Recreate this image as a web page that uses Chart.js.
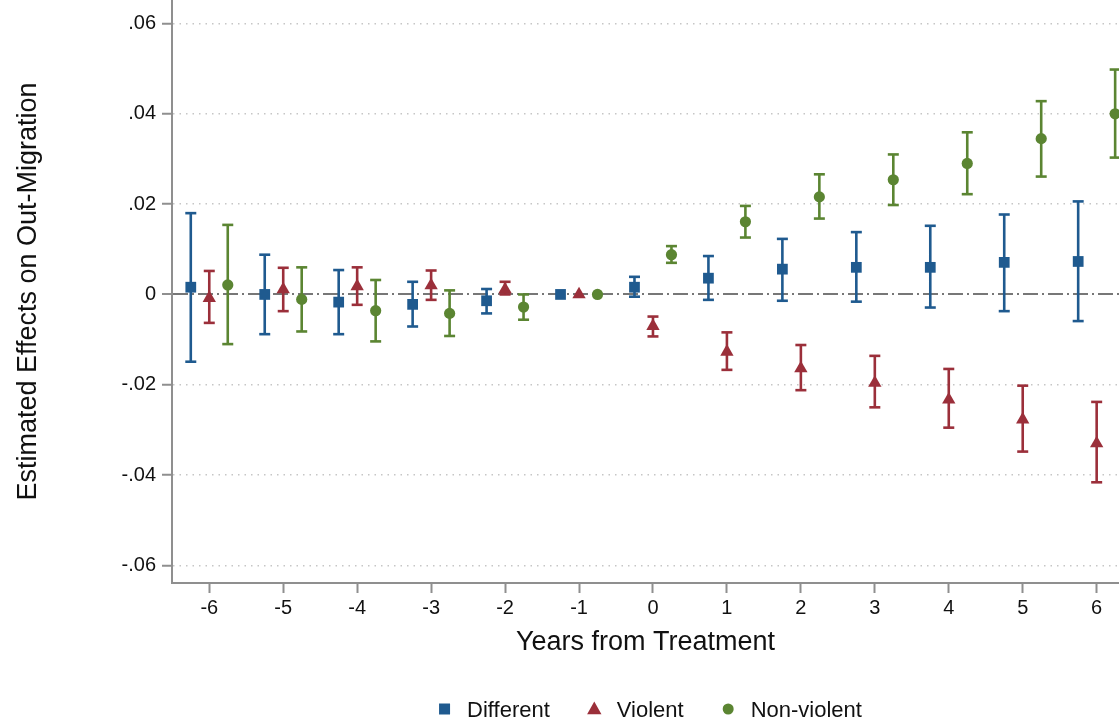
<!DOCTYPE html>
<html><head><meta charset="utf-8">
<script src="https://cdn.jsdelivr.net/npm/chart.js@4/dist/chart.umd.min.js"></script>
<style>html,body{margin:0;padding:0;background:#fff;overflow:hidden}canvas{display:block}</style>
</head><body>
<canvas id="c" width="1119" height="723"></canvas>
<script>
// ---- data ----
const years = [-6, -5, -4, -3, -2, -1, 0, 1, 2, 3, 4, 5, 6];
const seriesNames = ['Different', 'Violent', 'Non-violent'];
const seriesOffsets = [-0.25, 0, 0.25];

const different   = [0.0016, 0.0000, -0.0017, -0.0022, -0.0014, 0, 0.0016, 0.0036, 0.0056, 0.0060, 0.0060, 0.0071, 0.0073];
const differentLo = [-0.0149, -0.0088, -0.0088, -0.0071, -0.0042, null, -0.0005, -0.0012, -0.0014, -0.0016, -0.0029, -0.0037, -0.0059];
const differentHi = [0.0180, 0.0088, 0.0054, 0.0028, 0.0012, null, 0.0039, 0.0085, 0.0123, 0.0138, 0.0152, 0.0177, 0.0206];

const violent   = [-0.0008, 0.0011, 0.0018, 0.0020, 0.0011, 0, -0.0070, -0.0127, -0.0164, -0.0196, -0.0233, -0.0277, -0.0330];
const violentLo = [-0.0063, -0.0037, -0.0023, -0.0012, 0.0000, null, -0.0093, -0.0167, -0.0212, -0.0250, -0.0295, -0.0348, -0.0416];
const violentHi = [0.0052, 0.0059, 0.0060, 0.0053, 0.0028, null, -0.0049, -0.0084, -0.0112, -0.0136, -0.0165, -0.0202, -0.0238];

const nonviolent   = [0.0021, -0.0011, -0.0036, -0.0042, -0.0028, 0, 0.0088, 0.0161, 0.0216, 0.0254, 0.0290, 0.0345, 0.0400];
const nonviolentLo = [-0.0110, -0.0082, -0.0104, -0.0092, -0.0056, null, 0.0070, 0.0126, 0.0168, 0.0198, 0.0222, 0.0261, 0.0303];
const nonviolentHi = [0.0154, 0.0060, 0.0032, 0.0009, 0.0000, null, 0.0107, 0.0196, 0.0266, 0.0310, 0.0359, 0.0428, 0.0498];

const yTickValues = [-0.06, -0.04, -0.02, 0, 0.02, 0.04, 0.06];
const yTickLabels = ['-.06', '-.04', '-.02', '0', '.02', '.04', '.06'];
const xTickValues = years;
const xTickLabels = ['-6', '-5', '-4', '-3', '-2', '-1', '0', '1', '2', '3', '4', '5', '6'];

// ---- styles ----
const FONT = '"Liberation Sans", Arial, Helvetica, sans-serif';
const colors = ['#1f5a8f', '#9b2f3a', '#5b8532'];
const pointStyles = ['rect', 'triangle', 'circle'];
const pointRadii = [7.6, 7.7, 5.6];
const AXIS = '#8f8f8f';

const est = [different, violent, nonviolent];
const los = [differentLo, violentLo, nonviolentLo];
const his = [differentHi, violentHi, nonviolentHi];

function markerData(vals, off) {
  return years.map((yr, i) => ({ x: yr + off, y: vals[i] }));
}
function barData(lo, hi, off) {
  const out = [];
  years.forEach((yr, i) => {
    if (lo[i] == null || hi[i] == null) return;
    out.push({ x: yr + off, y: lo[i] }, { x: yr + off, y: hi[i] }, { x: yr + off, y: null });
  });
  return out;
}

const datasets = [];
seriesNames.forEach((name, k) => {
  datasets.push({
    type: 'scatter', label: name, data: markerData(est[k], seriesOffsets[k]),
    pointStyle: pointStyles[k], pointRadius: pointRadii[k],
    backgroundColor: colors[k], borderColor: colors[k], pointBorderWidth: 0, showLine: false
  });
});
seriesNames.forEach((name, k) => {
  datasets.push({
    type: 'line', label: name + ' CI', data: barData(los[k], his[k], seriesOffsets[k]),
    showLine: true, spanGaps: false, borderColor: colors[k], borderWidth: 2.6,
    pointStyle: 'line', pointRadius: 5.5, pointBorderColor: colors[k], pointBorderWidth: 2.6,
    backgroundColor: colors[k], fill: false, tension: 0
  });
});

function drawMarker(ctx, style, x, y, color) {
  ctx.fillStyle = color;
  ctx.beginPath();
  if (style === 'rect') {
    ctx.rect(x - 5.5, y - 5.5, 11, 11);
  } else if (style === 'triangle') {
    ctx.moveTo(x, y - 7.5); ctx.lineTo(x + 7.2, y + 5.2); ctx.lineTo(x - 7.2, y + 5.2); ctx.closePath();
  } else {
    ctx.arc(x, y, 5.5, 0, Math.PI * 2);
  }
  ctx.fill();
}

const legendPlugin = {
  id: 'bottomLegend',
  afterDraw(chart) {
    const ctx = chart.ctx;
    ctx.save();
    ctx.font = '22px ' + FONT;
    const widths = seriesNames.map(n => ctx.measureText(n).width);
    const mW = 11, gap = 17, itemGap = 39;
    const total = widths.reduce((a, b) => a + b, 0) + seriesNames.length * (mW + gap) + (seriesNames.length - 1) * itemGap;
    let x = (chart.chartArea.left + chart.chartArea.right) / 2 + 5 - total / 2;
    const yc = 709, yb = 717;
    seriesNames.forEach((n, i) => {
      drawMarker(ctx, pointStyles[i], x + mW / 2, yc, colors[i]);
      ctx.fillStyle = '#111';
      ctx.textBaseline = 'alphabetic';
      ctx.textAlign = 'left';
      ctx.fillText(n, x + mW + gap, yb);
      x += mW + gap + widths[i] + itemGap;
    });
    ctx.restore();
  }
};

const isZero = c => c.tick && Math.abs(c.tick.value) < 1e-12;
const lookup = (vals, labels, v) => { const i = vals.findIndex(t => Math.abs(t - v) < 1e-9); return i < 0 ? '' : labels[i]; };

new Chart(document.getElementById('c'), {
  type: 'scatter',
  data: { datasets },
  options: {
    responsive: false, animation: false, events: [],
    layout: { autoPadding: false, padding: { left: 0, right: 0, top: 0, bottom: 60 } },
    plugins: { legend: { display: false }, tooltip: { enabled: false } },
    scales: {
      x: {
        type: 'linear', min: -6.504, max: 6.302,
        afterBuildTicks: s => { s.ticks = xTickValues.map(v => ({ value: v })); },
        afterFit: s => { s.height = 80; s.paddingLeft = 0; s.paddingRight = 0; },
        ticks: { font: { family: FONT, size: 20 }, color: '#111', padding: 3, maxRotation: 0, autoSkip: false,
                 callback: v => lookup(xTickValues, xTickLabels, v) },
        grid: { drawOnChartArea: false, drawTicks: true, tickLength: 10, tickColor: AXIS, tickWidth: 2, color: AXIS },
        border: { display: true, color: AXIS, width: 2 },
        title: { display: true, text: 'Years from Treatment', font: { family: FONT, size: 27 }, color: '#111', padding: { top: 0, bottom: 4 } }
      },
      y: {
        type: 'linear', min: -0.0639, max: 0.0652,
        afterBuildTicks: s => { s.ticks = yTickValues.map(v => ({ value: v })); },
        afterFit: s => { s.width = 172; s.paddingTop = 0; s.paddingBottom = 0; },
        ticks: { font: { family: FONT, size: 20 }, color: '#111', padding: 6,
                 callback: v => lookup(yTickValues, yTickLabels, v) },
        grid: {
          drawOnChartArea: true, drawTicks: true, tickLength: 10,
          color: c => isZero(c) ? '#777777' : '#c6c6c6',
          lineWidth: c => isZero(c) ? 2 : 1.5,
          tickColor: AXIS, tickWidth: 2, tickBorderDash: []
        },
        border: { display: true, color: AXIS, width: 2, dash: c => isZero(c) ? [15, 4, 2, 4] : [1.5, 5] },
        title: { display: true, text: 'Estimated Effects on Out-Migration', font: { family: FONT, size: 27 }, color: '#111', padding: { top: 12, bottom: 0 } }
      }
    }
  },
  plugins: [legendPlugin]
});
</script>
</body></html>
